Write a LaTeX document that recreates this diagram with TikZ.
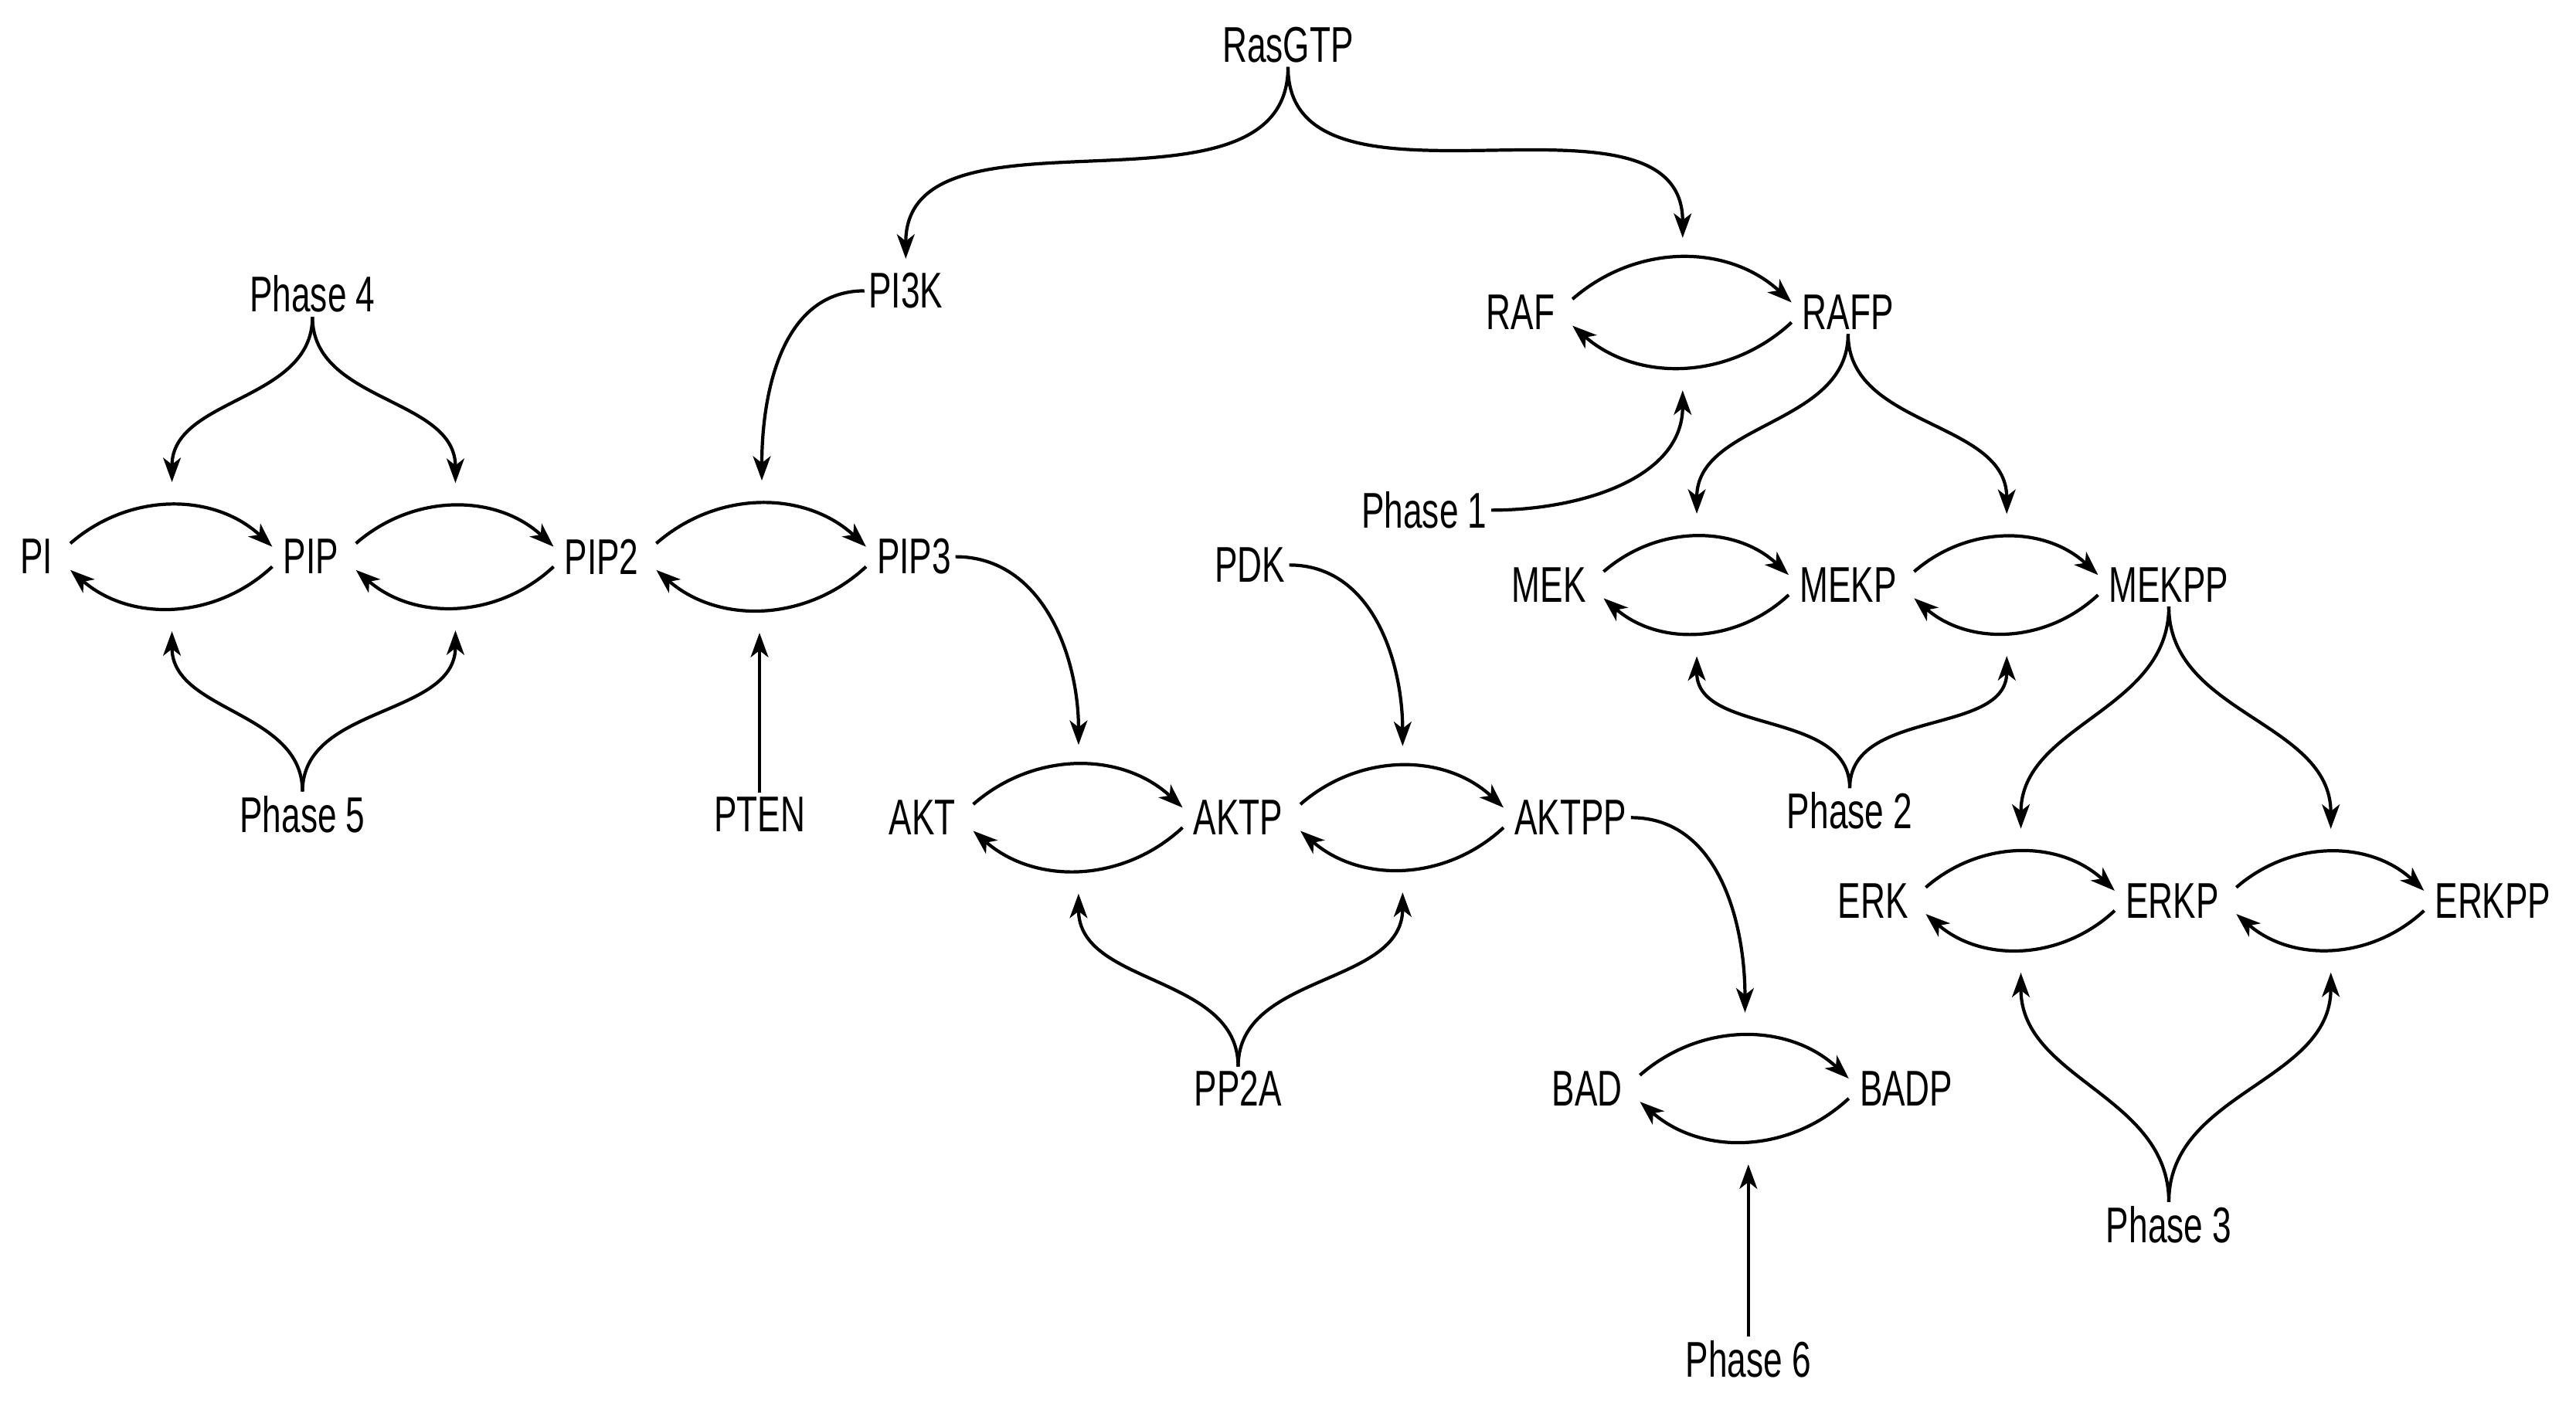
\documentclass[tikz,border=0pt]{standalone}
\usepackage{fontspec}
\setmainfont{Liberation Sans}[FakeStretch=0.68]
\usetikzlibrary{arrows.meta}
\begin{document}
\begin{tikzpicture}[x=0.02151cm,y=-0.02151cm,line width=1.2pt,
  >={Stealth[length=9pt,width=6.5pt,inset=2.5pt]},
  sp/.style={font=\fontsize{18.5}{20}\selectfont,inner sep=1pt}]
\useasboundingbox (0,0) rectangle (1550,850);
% species and phases
\node[sp] (ras) at (775,27) {RasGTP};
\node[sp] (pik) at (545,175) {PI3K};
\node[sp] (raf) at (915,188) {RAF};
\node[sp] (rafp) at (1112,188) {RAFP};
\node[sp] (ph4) at (188,177) {Phase 4};
\node[sp] (pi) at (22,335) {PI};
\node[sp] (pip) at (187,335) {PIP};
\node[sp] (pip2) at (362,335) {PIP2};
\node[sp] (pip3) at (550,335) {PIP3};
\node[sp] (pdk) at (752,340) {PDK};
\node[sp] (ph1) at (857,307) {Phase 1};
\node[sp] (mek) at (932,352) {MEK};
\node[sp] (mekp) at (1112,352) {MEKP};
\node[sp] (mekpp) at (1305,352) {MEKPP};
\node[sp] (akt) at (555,492) {AKT};
\node[sp] (aktp) at (745,492) {AKTP};
\node[sp] (aktpp) at (945,492) {AKTPP};
\node[sp] (ph5) at (182,490) {Phase 5};
\node[sp] (pten) at (457,490) {PTEN};
\node[sp] (ph2) at (1113,488) {Phase 2};
\node[sp] (erk) at (1127,542) {ERK};
\node[sp] (erkp) at (1307,542) {ERKP};
\node[sp] (erkpp) at (1500,542) {ERKPP};
\node[sp] (pp2a) at (745,655) {PP2A};
\node[sp] (bad) at (955,655) {BAD};
\node[sp] (badp) at (1147,655) {BADP};
\node[sp] (ph3) at (1305,737) {Phase 3};
\node[sp] (ph6) at (1052,818) {Phase 6};

% forward and backward reactions
\foreach \a/\b in {pi/pip,pip/pip2,pip2/pip3,raf/rafp,mek/mekp,mekp/mekpp,
                   akt/aktp,aktp/aktpp,erk/erkp,erkp/erkpp,bad/badp}{
  \draw[->] ([shift={(8,-8)}]\a.east) to[bend left=42]
    coordinate[pos=0.5] (\a-t) ([shift={(-4,-6)}]\b.west);
  \draw[->] ([shift={(-4,6)}]\b.west) to[bend left=42]
    coordinate[pos=0.5] (\a-b) ([shift={(8,8)}]\a.east);
}

% catalysis
\draw[->] (ras.south) to[out=-90,in=90] ([shift={(0,-6)}]pik.north);
\draw[->] (ras.south) to[out=-90,in=90] ([shift={(0,-12)}]raf-t);
\draw[->] (ph4.south) to[out=-90,in=90] ([shift={(0,-14)}]pi-t);
\draw[->] (ph4.south) to[out=-90,in=90] ([shift={(0,-14)}]pip-t);
\draw[->] (ph5.north) to[out=90,in=-90] ([shift={(0,14)}]pi-b);
\draw[->] (ph5.north) to[out=90,in=-90] ([shift={(0,14)}]pip-b);
\draw[->] (pik.west) to[out=180,in=90] ([shift={(0,-14)}]pip2-t);
\draw[->] (pten.north) -- ([shift={(0,14)}]pten.north |- pip2-b);
\draw[->] (pip3.east) to[out=0,in=90] ([shift={(0,-12)}]akt-t);
\draw[->] (pdk.east) to[out=0,in=90] ([shift={(0,-12)}]aktp-t);
\draw[->] (pp2a.north) to[out=90,in=-90] ([shift={(0,14)}]akt-b);
\draw[->] (pp2a.north) to[out=90,in=-90] ([shift={(0,14)}]aktp-b);
\draw[->] (aktpp.east) to[out=0,in=90] ([shift={(0,-14)}]bad-t);
\draw[->] (ph6.north) -- ([shift={(0,14)}]ph6.north |- bad-b);
\draw[->] (ph1.east) to[out=0,in=-90] ([shift={(0,14)}]raf-b);
\draw[->] (rafp.south) to[out=-90,in=90] ([shift={(0,-14)}]mek-t);
\draw[->] (rafp.south) to[out=-90,in=90] ([shift={(0,-14)}]mekp-t);
\draw[->] (ph2.north) to[out=90,in=-90] ([shift={(0,14)}]mek-b);
\draw[->] (ph2.north) to[out=90,in=-90] ([shift={(0,14)}]mekp-b);
\draw[->] (mekpp.south) to[out=-90,in=90] ([shift={(0,-14)}]erk-t);
\draw[->] (mekpp.south) to[out=-90,in=90] ([shift={(0,-14)}]erkp-t);
\draw[->] (ph3.north) to[out=90,in=-90] ([shift={(0,14)}]erk-b);
\draw[->] (ph3.north) to[out=90,in=-90] ([shift={(0,14)}]erkp-b);
\end{tikzpicture}
\end{document}
